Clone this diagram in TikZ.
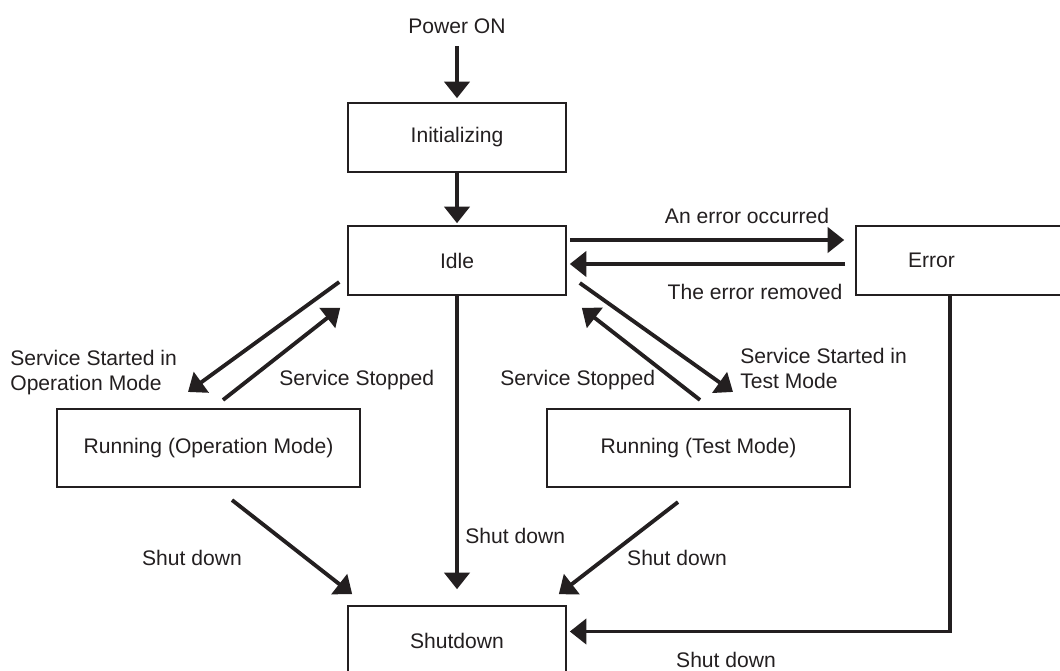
\documentclass[tikz,border=0pt]{standalone}
\usepackage{fontspec}
\setmainfont{Liberation Sans}
\usetikzlibrary{positioning, arrows.meta}
\definecolor{ink}{RGB}{35,31,32}

\begin{document}
\begin{tikzpicture}[
    every node/.style={font=\fontsize{12}{14.2}\selectfont, text=ink},
    state/.style={draw=ink, rectangle, line width=0.9pt, minimum width=4.36cm, minimum height=1.38cm},
    arr/.style={-{Triangle[length=0.33cm, width=0.5cm]}, color=ink, line width=2.2pt},
    lbl/.style={inner sep=0pt}
  ]
      \useasboundingbox (0,0) rectangle (21.2,-13.4);

      % States
      \node[state] (init) at (9.14,-2.75) {Initializing};
      \node[above=1.25cm of init] (pwr) {Power ON};
      \node[state] (idle) at (9.14,-5.21) {Idle};
      \node[state, minimum width=4.48cm] (err) at (19.36,-5.21) {Error\hspace*{1.46cm}};
      \node[state, minimum width=6.06cm, minimum height=1.57cm] (runop) at (4.17,-8.96) {Running (Operation Mode)};
      \node[state, minimum width=6.06cm, minimum height=1.57cm] (runtest) at (13.97,-8.96) {Running (Test Mode)};
      \node[state] (shut) at (9.14,-12.81) {Shutdown};

      % Labels
      \node[lbl] (occ) at (14.94,-4.32) {An error occurred};
      \node[lbl] (rem) at (15.1,-5.84) {The error removed};
      \node[lbl, anchor=west, align=left] (startop) at (0.2,-7.45) {Service Started in\\Operation Mode};
      \node[lbl, anchor=west] (stopop) at (5.58,-7.6) {Service Stopped};
      \node[lbl, anchor=west] (stoptest) at (10.0,-7.6) {Service Stopped};
      \node[lbl, anchor=west, align=left] (starttest) at (14.8,-7.36) {Service Started in\\Test Mode};
      \node[lbl] (sdop) at (3.84,-11.16) {Shut down};
      \node[lbl, anchor=west] (sdidle) at (9.3,-10.72) {Shut down};
      \node[lbl] (sdtest) at (13.54,-11.16) {Shut down};
      \node[lbl] (sderr) at (14.52,-13.2) {Shut down};

      % Transitions
      \draw[arr, shorten <=0.13cm, shorten >=0.08cm] (pwr) -- (init);
      \draw[arr, shorten >=0.04cm] (init) -- (idle);
      \draw[arr, shorten <=0.06cm, shorten >=0.22cm] ([yshift=0.41cm]idle.east) -- ([yshift=0.41cm]err.west);
      \draw[arr, shorten <=0.2cm, shorten >=0.06cm] ([yshift=-0.07cm]err.west) -- ([yshift=-0.07cm]idle.east);
      \draw[arr] ([shift={(-0.16,-0.43)}]idle.west) -- ([shift={(-0.41,0.32)}]runop.north);
      \draw[arr] ([shift={(0.29,0.16)}]runop.north) -- ([shift={(-0.14,-0.24)}]idle.south west);
      \draw[arr] ([shift={(0.26,-0.45)}]idle.east) -- ([shift={(0.69,0.32)}]runtest.north);
      \draw[arr] ([shift={(0.03,0.16)}]runtest.north) -- ([shift={(0.3,-0.24)}]idle.south east);
      \draw[arr] ([shift={(0.47,-0.24)}]runop.south) -- ([shift={(0.1,0.22)}]shut.north west);
      \draw[arr, shorten >=0.32cm] (idle) -- (shut);
      \draw[arr] ([shift={(-0.41,-0.28)}]runtest.south) -- ([shift={(-0.16,0.22)}]shut.north east);
      \draw[arr, shorten >=0.06cm] ([xshift=-0.36cm]err.south) |- ([yshift=0.18cm]shut.east);
    \end{tikzpicture}
\end{document}
